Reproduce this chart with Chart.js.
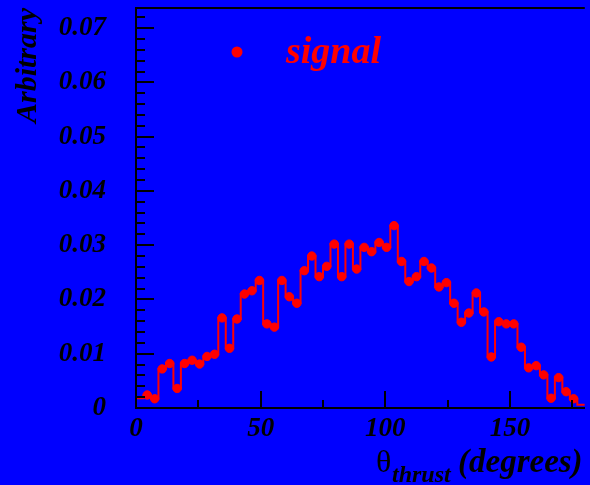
<!DOCTYPE html>
<html>
<head>
<meta charset="utf-8">
<script src="https://cdn.jsdelivr.net/npm/chart.js@4.4.0/dist/chart.umd.min.js"></script>
<style>
  html, body { margin: 0; padding: 0; background: #0000ff; }
  canvas { display: block; }
</style>
</head>
<body>
<canvas id="thrustChart" width="590" height="485"></canvas>
<script>
// theta_thrust for the signal sample, 60 bins of 3 degrees from 0 to 180
const binWidth = 3;
const signalValues = [
  0.0018, 0.0024, 0.0017, 0.0072, 0.0082, 0.0036, 0.0082, 0.0088, 0.0081, 0.0095,
  0.0099, 0.0166, 0.0110, 0.0164, 0.0210, 0.0216, 0.0235, 0.0155, 0.0149, 0.0235,
  0.0205, 0.0193, 0.0253, 0.0280, 0.0242, 0.0261, 0.0302, 0.0242, 0.0302, 0.0256,
  0.0296, 0.0288, 0.0305, 0.0296, 0.0336, 0.0270, 0.0233, 0.0242, 0.0270, 0.0258,
  0.0223, 0.0231, 0.0193, 0.0158, 0.0175, 0.0212, 0.0177, 0.0094, 0.0159, 0.0155,
  0.0155, 0.0112, 0.0074, 0.0078, 0.0061, 0.0018, 0.0056, 0.0030, 0.0017, 0.0006
];
const xTicks = [0, 50, 100, 150];
const xMinorTicks = [25, 75, 125, 175];
const yTicks = [0, 0.01, 0.02, 0.03, 0.04, 0.05, 0.06, 0.07];
const yMax = 0.0737;

const FONT = '"Liberation Serif", "Times New Roman", serif';
const RED = '#ff0000';

// step outline: left edge of every bin, closed at x = 180
const histPoints = [{ x: 0, y: 0 }];
signalValues.forEach((v, i) => histPoints.push({ x: i * binWidth, y: v }));
histPoints.push({ x: signalValues.length * binWidth, y: signalValues[signalValues.length - 1] });

// markers at bin centres (first and last bin have none)
const markerPoints = signalValues
  .map((v, i) => ({ x: (i + 0.5) * binWidth, y: v }))
  .slice(1, -1);

// no extra room for overhanging tick labels, the pad fills the canvas
function fixBox(s, key, size) {
  s[key] = size;
  s.paddingTop = s.paddingBottom = s.paddingLeft = s.paddingRight = 0;
}

const rootFrame = {
  id: 'rootFrame',
  beforeDraw(chart) {
    const ctx = chart.ctx;
    ctx.save();
    ctx.fillStyle = '#0000ff';
    ctx.fillRect(0, 0, chart.width, chart.height);
    ctx.restore();
  },
  afterDraw(chart) {
    const { ctx, chartArea: a, scales: { x, y } } = chart;
    ctx.save();
    ctx.strokeStyle = '#000';
    ctx.lineWidth = 2;
    ctx.beginPath();
    // top of the frame
    ctx.moveTo(a.left, a.top);
    ctx.lineTo(a.right, a.top);
    // y ticks, pointing into the pad
    for (let k = 1; k * 0.002 < yMax; k++) {
      const py = Math.round(y.getPixelForValue(k * 0.002));
      const len = k % 5 === 0 ? 18 : 9;
      ctx.moveTo(a.left, py);
      ctx.lineTo(a.left + len, py);
    }
    // x ticks
    xTicks.concat(xMinorTicks).forEach(v => {
      const px = Math.round(x.getPixelForValue(v));
      const len = v % 50 === 0 ? 17 : 8;
      ctx.moveTo(px, a.bottom);
      ctx.lineTo(px, a.bottom - len);
    });
    ctx.stroke();

    // x axis title: theta with "thrust" subscript
    ctx.fillStyle = '#000';
    ctx.textAlign = 'left';
    ctx.textBaseline = 'alphabetic';
    ctx.font = '32px ' + FONT;
    ctx.fillText('\u03b8', 376, 472);
    ctx.font = 'italic bold 24px ' + FONT;
    ctx.fillText('thrust', 392, 482);
    ctx.font = 'italic bold 33px ' + FONT;
    ctx.fillText('(degrees)', 458, 472);

    // legend entry
    const ds = chart.data.datasets[1];
    ctx.fillStyle = RED;
    ctx.beginPath();
    ctx.arc(237, 52, 5.5, 0, Math.PI * 2);
    ctx.fill();
    ctx.font = 'italic bold 38px ' + FONT;
    ctx.fillText(ds.label, 286, 63);
    ctx.restore();
  }
};

new Chart(document.getElementById('thrustChart'), {
  type: 'scatter',
  data: {
    datasets: [{
      label: 'outline',
      type: 'line',
      data: histPoints,
      stepped: 'before',
      borderColor: RED,
      borderWidth: 2,
      pointRadius: 0,
      fill: false
    }, {
      label: 'signal',
      data: markerPoints,
      backgroundColor: RED,
      borderColor: RED,
      pointRadius: 4.2,
      borderWidth: 1
    }]
  },
  options: {
    responsive: false,
    animation: false,
    layout: { padding: { top: 8, right: 0, left: 0, bottom: 0 } },
    plugins: { legend: { display: false }, tooltip: { enabled: false } },
    scales: {
      x: {
        type: 'linear',
        min: 0,
        max: 180,
        afterBuildTicks: s => { s.ticks = xTicks.map(v => ({ value: v })); },
        afterFit: s => fixBox(s, 'height', 77),
        grid: { display: false, drawTicks: false },
        border: { display: true, color: '#000', width: 2 },
        ticks: {
          color: '#000',
          padding: 5,
          maxRotation: 0,
          font: { family: FONT, size: 27, style: 'italic', weight: 'bold' }
        }
      },
      y: {
        min: 0,
        max: yMax,
        afterBuildTicks: s => { s.ticks = yTicks.map(v => ({ value: v })); },
        afterFit: s => fixBox(s, 'width', 136),
        grid: { display: false, drawTicks: false },
        border: { display: true, color: '#000', width: 2 },
        ticks: {
          color: '#000',
          padding: 30,
          callback: v => (v === 0 ? '0' : v.toFixed(2)),
          font: { family: FONT, size: 27, style: 'italic', weight: 'bold' }
        },
        title: {
          display: true,
          text: 'Arbitrary',
          align: 'end',
          color: '#000',
          padding: { top: 10, bottom: 0 },
          font: { family: FONT, size: 30, style: 'italic', weight: 'bold' }
        }
      }
    }
  },
  plugins: [rootFrame]
});
</script>
</body>
</html>
